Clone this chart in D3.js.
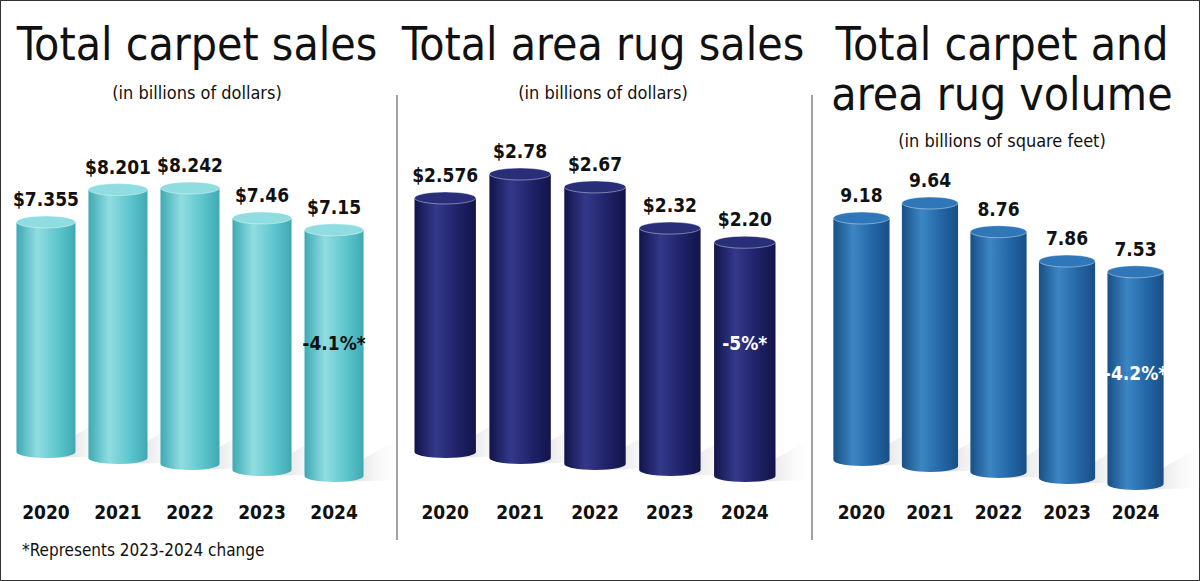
<!DOCTYPE html>
<html><head><meta charset="utf-8">
<script src="https://cdn.jsdelivr.net/npm/d3@7"></script>
<style>body{margin:0;background:#fff}</style>
</head><body><svg width="1200" height="581"></svg>
<script>
var years = ["2020","2021","2022","2023","2024"];
var carpetSales = [7.355, 8.201, 8.242, 7.46, 7.15];
var rugSales = [2.576, 2.78, 2.67, 2.32, 2.20];
var volume = [9.18, 9.64, 8.76, 7.86, 7.53];
var carpetLabels = ["$7.355","$8.201","$8.242","$7.46","$7.15"];
var rugLabels = ["$2.576","$2.78","$2.67","$2.32","$2.20"];
var volumeLabels = ["9.18","9.64","8.76","7.86","7.53"];
var changes = ["-4.1%*", "-5%*", "-4.2%*"];

var font = "'Liberation Sans Narrow','DejaVu Sans Condensed',sans-serif";
var svg = d3.select("svg");
svg.append("rect").attr("x",0.5).attr("y",0.5).attr("width",1199).attr("height",580)
  .attr("fill","none").attr("stroke","#333");

var defs = svg.append("defs");
function grad(id, dark, mid, light) {
  var g = defs.append("linearGradient").attr("id", id);
  g.append("stop").attr("offset","0%").attr("stop-color",dark);
  g.append("stop").attr("offset","35%").attr("stop-color",light);
  g.append("stop").attr("offset","70%").attr("stop-color",mid);
  g.append("stop").attr("offset","100%").attr("stop-color",dark);
}
grad("g0","#3fa9b3","#5ec6cd","#8fdde1");
grad("g1","#12144a","#1f2268","#34388a");
grad("g2","#184f86","#2366a6","#3c86c4");
var sh = defs.append("linearGradient").attr("id","sh");
sh.append("stop").attr("offset","0%").attr("stop-color","#999").attr("stop-opacity",0.6);
sh.append("stop").attr("offset","100%").attr("stop-color","#fff").attr("stop-opacity",0);

var panels = [
  {title:["Total carpet sales"], sub:"(in billions of dollars)", cx:197, x0:15, x1:365,
   vals:carpetSales, labels:carpetLabels, d:[7.355,8.242], r:[222,188], base:452, fill:"url(#g0)", top:"#8fdde1",
   note:changes[0], noteColor:"#111", noteY:350},
  {title:["Total area rug sales"], sub:"(in billions of dollars)", cx:603, x0:413, x1:777,
   vals:rugSales, labels:rugLabels, d:[2.576,2.78], r:[198,174], base:452, fill:"url(#g1)", top:"#2a2d78",
   note:changes[1], noteColor:"#fff", noteY:350},
  {title:["Total carpet and","area rug volume"], sub:"(in billions of square feet)", cx:1002, x0:832, x1:1165,
   vals:volume, labels:volumeLabels, d:[9.18,9.64], r:[218,203], base:460, fill:"url(#g2)", top:"#2f77b8",
   note:changes[2], noteColor:"#fff", noteY:380}
];

panels.forEach(function(p) {
  var g = svg.append("g");
  p.title.forEach(function(t, i) {
    g.append("text").attr("x",p.cx).attr("y",60 + i*50).attr("text-anchor","middle")
      .attr("font-family",font).attr("font-size",46).attr("fill","#111").text(t);
  });
  g.append("text").attr("x",p.cx).attr("y",p.title.length > 1 ? 147 : 99).attr("text-anchor","middle")
    .attr("font-family",font).attr("font-size",18).attr("fill","#111").text(p.sub);

  var x = d3.scaleBand().domain(years).range([p.x0, p.x1]).paddingInner(0.18).paddingOuter(0.02);
  var y = d3.scaleLinear().domain(p.d).range(p.r);
  var w = x.bandwidth(), ry = 6;

  years.forEach(function(yr, i) {
    var v = p.vals[i], left = x(yr), top = y(v), bottom = p.base + i * 6;
    g.append("path").attr("fill","url(#sh)")
      .attr("d","M" + (left + w*0.5) + "," + bottom + "L" + (left + w + 40) + "," + (bottom - 40)
        + "L" + (left + w + 40) + "," + (bottom + 4) + "L" + (left + w*0.5) + "," + (bottom + ry) + "Z");
    g.append("path").attr("fill", p.fill)
      .attr("d","M" + left + "," + top + "L" + left + "," + bottom
        + "A" + (w/2) + "," + ry + " 0 0 0 " + (left + w) + "," + bottom
        + "L" + (left + w) + "," + top + "Z");
    g.append("ellipse").attr("cx", left + w/2).attr("cy", top).attr("rx", w/2).attr("ry", ry)
      .attr("fill", p.top).attr("stroke","rgba(255,255,255,0.4)");
    g.append("text").attr("x", left + w/2).attr("y", top - 16).attr("text-anchor","middle")
      .attr("font-family",font).attr("font-weight","bold").attr("font-size",19).attr("fill","#111")
      .text(p.labels[i]);
    g.append("text").attr("x", left + w/2).attr("y", 519).attr("text-anchor","middle")
      .attr("font-family",font).attr("font-weight","bold").attr("font-size",19).attr("fill","#111").text(yr);
    if (i === 4) {
      g.append("text").attr("x", left + w/2).attr("y", p.noteY).attr("text-anchor","middle")
        .attr("font-family",font).attr("font-weight","bold").attr("font-size",19).attr("fill",p.noteColor)
        .text(p.note);
    }
  });
});

[397, 812].forEach(function(lx) {
  svg.append("line").attr("x1",lx).attr("x2",lx).attr("y1",95).attr("y2",540)
    .attr("stroke","#444").attr("stroke-width",1);
});
svg.append("text").attr("x",22).attr("y",556).attr("font-family",font).attr("font-size",17)
  .attr("fill","#111").text("*Represents 2023-2024 change");
</script></body></html>
